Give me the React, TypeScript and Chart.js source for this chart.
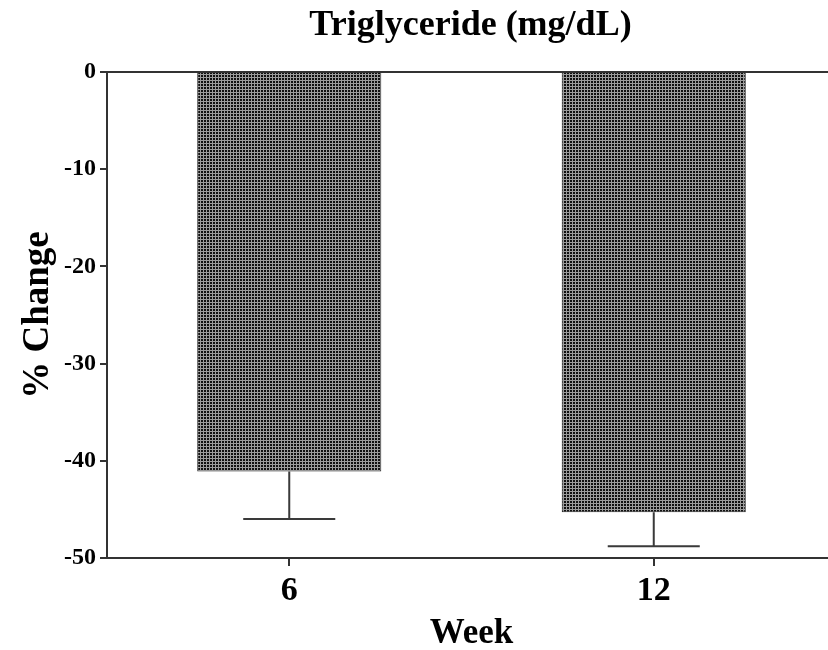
import React, { useEffect, useRef } from "react";
import { Chart, registerables } from "chart.js";

Chart.register(...registerables);

const categories = ["6", "12"];
const meanChange = [-41.1, -45.3];
const semValues = [4.9, 3.5];
const yTicks = [0, -10, -20, -30, -40, -50];
const titleText = "Triglyceride (mg/dL)";
const xTitle = "Week";
const yTitle = "% Change";

const FONT = '"Liberation Serif", "Times New Roman", serif';
const LINE = "#333333";

function makePattern(): CanvasPattern | string {
  const c = document.createElement("canvas");
  c.width = 3;
  c.height = 3;
  const g = c.getContext("2d");
  if (!g) return "#555";
  g.fillStyle = "#9c9c9c";
  g.fillRect(0, 0, 3, 3);
  g.fillStyle = "#101010";
  g.fillRect(0, 0, 2, 2);
  const p = g.createPattern(c, "repeat");
  return p || "#555";
}

const titlePlugin = {
  id: "centerTitle",
  afterDraw(chart: any) {
    const { ctx, chartArea } = chart;
    ctx.save();
    ctx.font = `bold 36px ${FONT}`;
    ctx.fillStyle = "#000";
    ctx.textAlign = "center";
    ctx.textBaseline = "alphabetic";
    ctx.fillText(titleText, (chartArea.left + chartArea.right) / 2 - 1, 35);
    ctx.restore();
  },
};

const errorBarPlugin = {
  id: "errorBars",
  afterDatasetsDraw(chart: any) {
    const { ctx } = chart;
    const meta = chart.getDatasetMeta(0);
    const yScale = chart.scales.y;
    ctx.save();
    ctx.strokeStyle = "#3a3a3a";
    ctx.lineWidth = 2;
    meta.data.forEach((bar: any, i: number) => {
      const v = meanChange[i];
      const e = semValues[i];
      const x = bar.x;
      const y0 = yScale.getPixelForValue(v);
      const y1 = yScale.getPixelForValue(v - e);
      const half = bar.width / 4;
      ctx.beginPath();
      ctx.moveTo(x, y0);
      ctx.lineTo(x, y1);
      ctx.moveTo(x - half, y1);
      ctx.lineTo(x + half, y1);
      ctx.stroke();
    });
    ctx.restore();
  },
};

export default function App() {
  const ref = useRef<HTMLCanvasElement | null>(null);

  useEffect(() => {
    if (!ref.current) return;
    const pattern = makePattern();
    const chart = new Chart(ref.current, {
      type: "bar",
      data: {
        labels: categories,
        datasets: [
          {
            data: meanChange,
            backgroundColor: pattern as any,
            borderColor: "#222",
            borderWidth: 1,
            barPercentage: 0.505,
            categoryPercentage: 1,
          },
        ],
      },
      options: {
        responsive: false,
        animation: false,
        layout: { padding: { top: 72, left: 0, right: 6, bottom: 0 } },
        plugins: {
          legend: { display: false },
          tooltip: { enabled: false },
          title: { display: false },
        },
        scales: {
          x: {
            type: "category",
            offset: true,
            afterFit(scale: any) {
              scale.height = 92;
            },
            grid: {
              display: true,
              offset: false,
              drawOnChartArea: false,
              drawTicks: true,
              tickLength: 8,
              tickColor: LINE,
              lineWidth: 2,
            },
            border: { display: true, color: LINE, width: 2 },
            ticks: {
              color: "#000",
              padding: 5,
              font: { family: FONT, size: 34, weight: "bold" },
            },
            title: {
              display: true,
              text: xTitle,
              color: "#000",
              padding: 0,
              font: { family: FONT, size: 35, weight: "bold", lineHeight: 0.9 },
            },
          },
          y: {
            type: "linear",
            min: -50,
            max: 0,
            afterFit(scale: any) {
              scale.width = 107;
            },
            afterBuildTicks(scale: any) {
              scale.ticks = yTicks.map((v) => ({ value: v }));
            },
            grid: {
              display: true,
              drawOnChartArea: true,
              drawTicks: true,
              tickLength: 7,
              tickColor: LINE,
              lineWidth: 2,
              color: (ctx: any) => (ctx.tick && ctx.tick.value === 0 ? LINE : "rgba(0,0,0,0)"),
            },
            border: { display: true, color: LINE, width: 2 },
            ticks: {
              color: "#000",
              padding: 4,
              font: { family: FONT, size: 24, weight: "bold" },
            },
            title: {
              display: true,
              text: yTitle,
              color: "#000",
              padding: { top: 16, bottom: 0 },
              font: { family: FONT, size: 37, weight: "bold" },
            },
          },
        },
      },
      plugins: [titlePlugin, errorBarPlugin],
    } as any);
    return () => chart.destroy();
  }, []);

  return (
    <div
      style={{
        position: "absolute",
        left: 0,
        top: 0,
        width: 828,
        height: 650,
        overflow: "hidden",
        background: "#fff",
      }}
    >
      <canvas ref={ref} width={842} height={650} style={{ display: "block" }} />
    </div>
  );
}
